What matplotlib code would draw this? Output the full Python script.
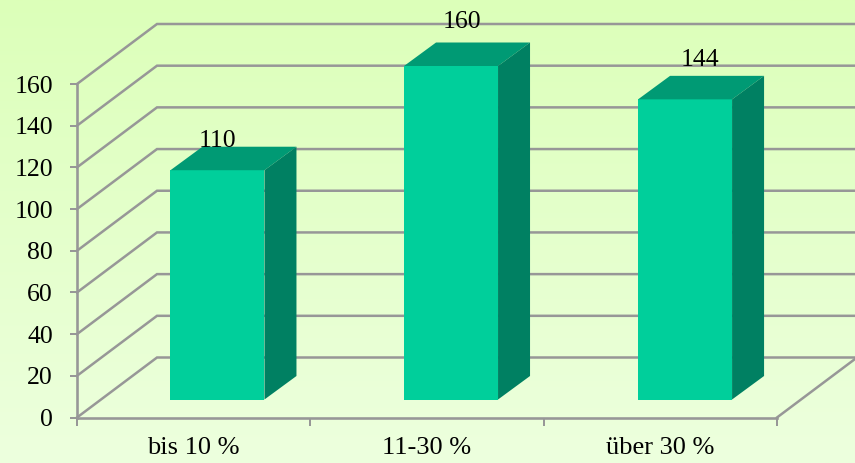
import numpy as np
import matplotlib
matplotlib.use("Agg")
import matplotlib.pyplot as plt
from matplotlib.patches import Polygon

categories = ["bis 10 %", "11-30 %", "über 30 %"]
values = [110, 160, 144]
yticks = [0, 20, 40, 60, 80, 100, 120, 140, 160]

W, H = 855, 463
GRID = "#979797"
FRONT = "#00CF9B"
TOP = "#009A74"
SIDE = "#008062"
px = 0.72  # one pixel in points at dpi 100

plt.rcParams["font.family"] = ["Liberation Serif", "DejaVu Serif"]

fig = plt.figure(figsize=(W / 100, H / 100), dpi=100)

# background gradient
bg = fig.add_axes([0, 0, 1, 1], zorder=0)
bg.imshow(np.linspace(0, 1, 256).reshape(-1, 1),
          cmap=matplotlib.colors.LinearSegmentedColormap.from_list("bg", ["#DCFFB9", "#EDFFDE"]),
          aspect="auto", extent=[0, 1, 0, 1])
bg.axis("off")

# front plane of the 3D box, 77..777 px wide, 84..417.5 px high
ax = fig.add_axes([77 / W, 1 - 417.5 / H, 700 / W, 333.5 / H], zorder=1)
ax.patch.set_alpha(0)
ax.set_xlim(0, 3)
ax.set_ylim(0, 160)

# depth of the box and the bars, in data units
ux = 700 / 3
uy = 333.5 / 160
box_dx, box_dy = 80 / ux, 60 / uy
bar_dx, bar_dy = 32 / ux, 23.5 / uy
bar_w = 94 / ux
bar_floor = 18 / uy
centers = [0.602, 1.603, 2.606]

# walls
for v in yticks:
    ax.plot([0, box_dx, 3 + box_dx], [v, v + box_dy, v + box_dy], color=GRID, lw=2.5 * px,
            clip_on=False, zorder=1, solid_joinstyle="miter")
ax.plot([3, 3 + box_dx], [0, box_dy], color=GRID, lw=2.5 * px, clip_on=False, zorder=1)

# bars
for c, v in zip(centers, values):
    x0, x1 = c - bar_w / 2, c + bar_w / 2
    ax.add_patch(Polygon([(x0, bar_floor), (x1, bar_floor), (x1, bar_floor + v), (x0, bar_floor + v)],
                         fc=FRONT, ec="none", clip_on=False, zorder=3))
    ax.add_patch(Polygon([(x0, bar_floor + v), (x1, bar_floor + v),
                          (x1 + bar_dx, bar_floor + v + bar_dy), (x0 + bar_dx, bar_floor + v + bar_dy)],
                         fc=TOP, ec="none", clip_on=False, zorder=3))
    ax.add_patch(Polygon([(x1, bar_floor), (x1 + bar_dx, bar_floor + bar_dy),
                          (x1 + bar_dx, bar_floor + v + bar_dy), (x1, bar_floor + v)],
                         fc=SIDE, ec="none", clip_on=False, zorder=3))

# value labels sit at odd offsets in the source
nudge_x = [0.5, 11, 15]
nudge_y = [23.5, 38, 33]
for c, v, nx, ny in zip(centers, values, nudge_x, nudge_y):
    ax.annotate(str(v), (c, bar_floor + v), xytext=(nx * px, ny * px), textcoords="offset points",
                ha="center", va="baseline", fontsize=18.5, color="black", zorder=4,
                annotation_clip=False)

# axes
for name in ["top", "right"]:
    ax.spines[name].set_visible(False)
for name in ["left", "bottom"]:
    ax.spines[name].set_color(GRID)
    ax.spines[name].set_linewidth(2.6 * px)
ax.set_yticks(yticks)
ax.tick_params(axis="y", length=7 * px, width=2 * px, color=GRID, pad=17 * px, labelsize=18.5)
ax.set_xticks([0, 1, 2, 3])
ax.set_xticklabels([])
ax.tick_params(axis="x", which="major", length=8 * px, width=2 * px, color=GRID)
ax.set_xticks([0.5, 1.5, 2.5], minor=True)
ax.set_xticklabels(categories, minor=True)
ax.tick_params(axis="x", which="minor", length=0, pad=20 * px, labelsize=19)

fig.savefig("out.png", dpi=100)
